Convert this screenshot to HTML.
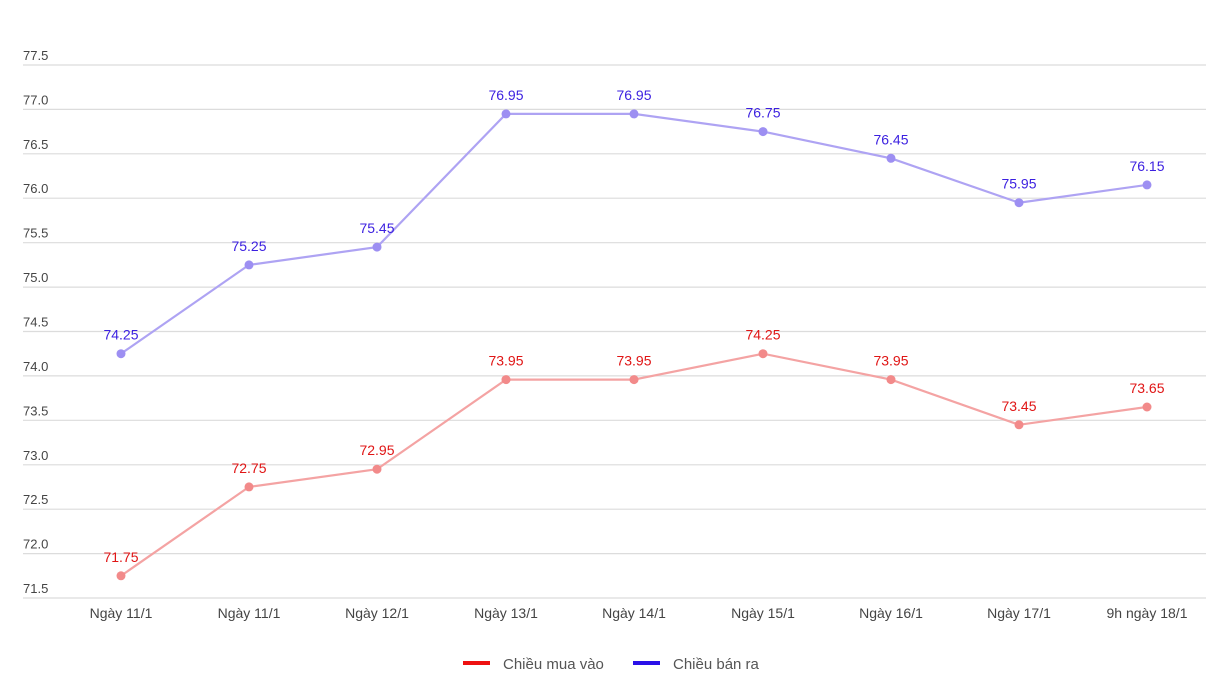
<!DOCTYPE html>
<html><head><meta charset="utf-8"><style>
html,body{margin:0;padding:0;background:#fff;}
svg{display:block;font-family:"Liberation Sans","DejaVu Sans",sans-serif;}
</style></head><body>
<svg width="1206" height="697" viewBox="0 0 1206 697" xmlns="http://www.w3.org/2000/svg">
<g stroke="#dcdcdc" stroke-width="1.2">
<line x1="23" x2="1206" y1="65" y2="65"/>
<line x1="23" x2="1206" y1="109.4" y2="109.4"/>
<line x1="23" x2="1206" y1="153.8" y2="153.8"/>
<line x1="23" x2="1206" y1="198.2" y2="198.2"/>
<line x1="23" x2="1206" y1="242.7" y2="242.7"/>
<line x1="23" x2="1206" y1="287.1" y2="287.1"/>
<line x1="23" x2="1206" y1="331.5" y2="331.5"/>
<line x1="23" x2="1206" y1="375.9" y2="375.9"/>
<line x1="23" x2="1206" y1="420.3" y2="420.3"/>
<line x1="23" x2="1206" y1="464.8" y2="464.8"/>
<line x1="23" x2="1206" y1="509.2" y2="509.2"/>
<line x1="23" x2="1206" y1="553.6" y2="553.6"/>
<line x1="23" x2="1206" y1="598" y2="598"/>
</g>
<g fill="#444" font-size="13">
<text x="23" y="60">77.5</text>
<text x="23" y="104.4">77.0</text>
<text x="23" y="148.8">76.5</text>
<text x="23" y="193.2">76.0</text>
<text x="23" y="237.7">75.5</text>
<text x="23" y="282.1">75.0</text>
<text x="23" y="326.5">74.5</text>
<text x="23" y="370.9">74.0</text>
<text x="23" y="415.3">73.5</text>
<text x="23" y="459.8">73.0</text>
<text x="23" y="504.2">72.5</text>
<text x="23" y="548.6">72.0</text>
<text x="23" y="593">71.5</text>
</g>
<g fill="#444" font-size="14" text-anchor="middle">
<text x="121" y="618">Ngày 11/1</text>
<text x="249" y="618">Ngày 11/1</text>
<text x="377" y="618">Ngày 12/1</text>
<text x="506" y="618">Ngày 13/1</text>
<text x="634" y="618">Ngày 14/1</text>
<text x="763" y="618">Ngày 15/1</text>
<text x="891" y="618">Ngày 16/1</text>
<text x="1019" y="618">Ngày 17/1</text>
<text x="1147" y="618">9h ngày 18/1</text>
</g>
<polyline fill="none" stroke="#aea3f3" stroke-width="2.2" points="121,353.7 249,264.9 377,247.1 506,113.9 634,113.9 763,131.6 891,158.3 1019,202.7 1147,184.9"/>
<polyline fill="none" stroke="#f4a3a3" stroke-width="2.2" points="121,575.8 249,486.9 377,469.2 506,379.6 634,379.6 763,353.7 891,379.6 1019,424.8 1147,407"/>
<g fill="#9d8ff2">
<circle cx="121" cy="353.7" r="4.5"/><circle cx="249" cy="264.9" r="4.5"/><circle cx="377" cy="247.1" r="4.5"/><circle cx="506" cy="113.9" r="4.5"/><circle cx="634" cy="113.9" r="4.5"/><circle cx="763" cy="131.6" r="4.5"/><circle cx="891" cy="158.3" r="4.5"/><circle cx="1019" cy="202.7" r="4.5"/><circle cx="1147" cy="184.9" r="4.5"/>
</g>
<g fill="#f28a8a">
<circle cx="121" cy="575.8" r="4.5"/><circle cx="249" cy="486.9" r="4.5"/><circle cx="377" cy="469.2" r="4.5"/><circle cx="506" cy="379.6" r="4.5"/><circle cx="634" cy="379.6" r="4.5"/><circle cx="763" cy="353.7" r="4.5"/><circle cx="891" cy="379.6" r="4.5"/><circle cx="1019" cy="424.8" r="4.5"/><circle cx="1147" cy="407" r="4.5"/>
</g>
<g fill="#3b1fe0" font-size="14" text-anchor="middle">
<text x="121" y="339.7">74.25</text><text x="249" y="250.9">75.25</text><text x="377" y="233.1">75.45</text><text x="506" y="99.9">76.95</text><text x="634" y="99.9">76.95</text><text x="763" y="117.6">76.75</text><text x="891" y="144.3">76.45</text><text x="1019" y="188.7">75.95</text><text x="1147" y="170.9">76.15</text>
</g>
<g fill="#e01515" font-size="14" text-anchor="middle">
<text x="121" y="561.8">71.75</text><text x="249" y="472.9">72.75</text><text x="377" y="455.2">72.95</text><text x="506" y="365.6">73.95</text><text x="634" y="365.6">73.95</text><text x="763" y="339.7">74.25</text><text x="891" y="365.6">73.95</text><text x="1019" y="410.8">73.45</text><text x="1147" y="393">73.65</text>
</g>
<rect x="463" y="661" width="27" height="4" fill="#ee1111"/>
<text x="503" y="669" font-size="15" fill="#555">Chiều mua vào</text>
<rect x="633" y="661" width="27" height="4" fill="#2a10e8"/>
<text x="673" y="669" font-size="15" fill="#555">Chiều bán ra</text>
</svg>
</body></html>
